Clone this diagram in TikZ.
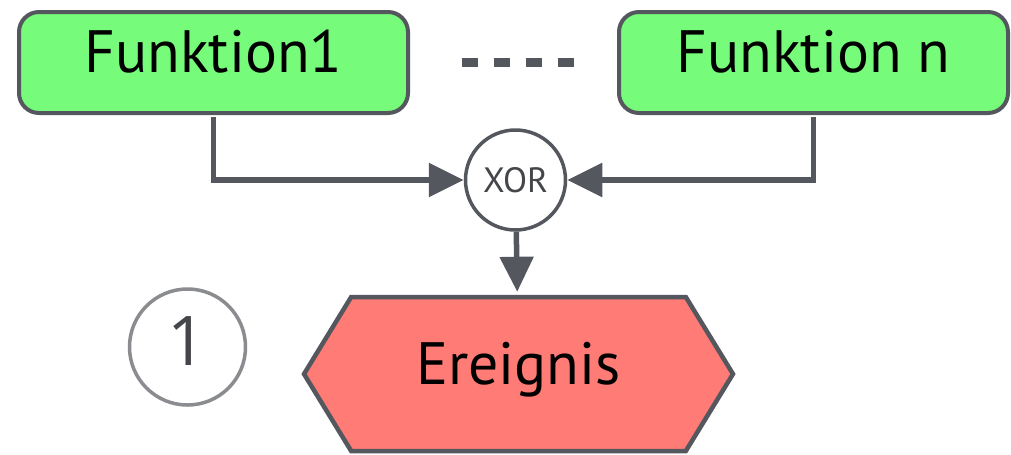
\documentclass[tikz,border=0pt]{standalone}
\usepackage{fontspec}
\setmainfont{PT Sans}
\newfontfamily\numfont{Open Sans}
\usetikzlibrary{arrows.meta,shapes.symbols,positioning}
\definecolor{fktgreen}{RGB}{118,251,122}
\definecolor{evred}{RGB}{255,123,118}
\definecolor{edgegray}{RGB}{84,88,94}
\definecolor{ringgray}{RGB}{138,140,143}
\definecolor{txtgray}{RGB}{68,70,73}

\begin{document}
\begin{tikzpicture}[node distance=2cm, auto]
      % Define block styles
      \tikzstyle{block} = [rectangle, draw=edgegray, fill=fktgreen, line width=0.08cm, rounded corners=0.4cm, minimum width=7.78cm, minimum height=2.02cm, inner sep=0.1cm, text height=0.9cm, text depth=0.5cm, font=\fontsize{34}{40}\selectfont]
      \tikzstyle{event} = [signal, signal to=west and east, signal pointer angle=117, draw=edgegray, fill=evred, line width=0.09cm, minimum width=8.58cm, minimum height=3.08cm, inner sep=0.1cm, text height=0.9cm, text depth=0.5cm, font=\fontsize{34}{40}\selectfont]
      \tikzstyle{gate} = [circle, draw=edgegray, fill=white, line width=0.07cm, minimum size=2cm, inner sep=0pt, text=txtgray, font=\fontsize{20}{24}\selectfont]
      \tikzstyle{marker} = [circle, draw=ringgray, line width=0.07cm, minimum size=2.32cm, inner sep=0pt, text depth=0.25cm, text=txtgray, font=\numfont\fontsize{39}{46}\selectfont]
      \tikzstyle{line} = [draw=edgegray, line width=0.11cm, -{Triangle[length=0.7cm, width=0.66cm]}]
      \tikzstyle{dots} = [draw=edgegray, line width=0.17cm, dash pattern=on 0.32cm off 0.32cm]

      \useasboundingbox (0,0) rectangle (20.22,-9.08);

      % Place blocks
      \node [block] (f1) at (4.27,-1.25) {Funktion1};
      \node [block, right of=f1, node distance=12cm] (fn) {Funktion n};
      \node [gate] (xor) at (10.31,-3.6) {XOR};
      \node [event, below of=xor, node distance=3.88cm, xshift=0.06cm] (ev) {Ereignis};
      \node [marker, left of=ev, node distance=6.62cm, yshift=0.54cm] (num) {1};

      % Draw lines
      \path [dots] ([xshift=1.04cm]f1.east) -- ([xshift=-0.86cm]fn.west);
      \path [line, shorten <=0.04cm] (f1.south) |- (xor);
      \path [line, shorten <=0.04cm] (fn.south) |- (xor);
      \path [line, shorten >=0.06cm] (xor) -- (ev);
    \end{tikzpicture}
\end{document}
